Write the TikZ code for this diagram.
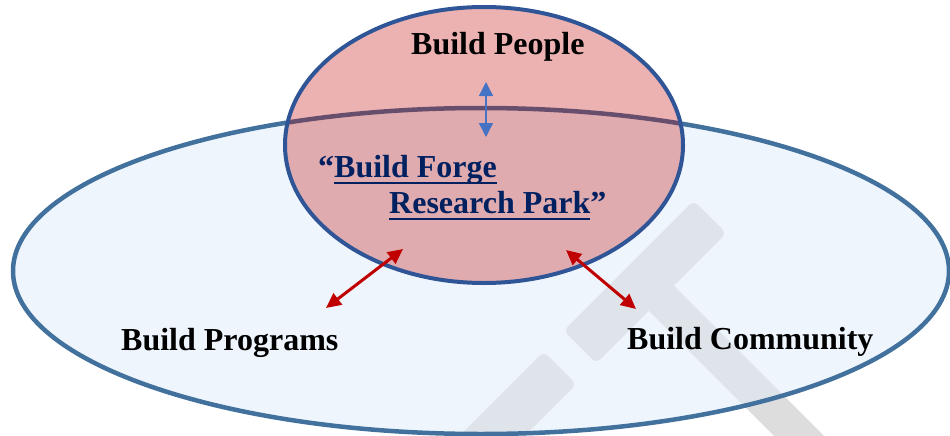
\documentclass[tikz,border=0pt]{standalone}
\usepackage{fontspec}
\setmainfont{Liberation Serif}
\usetikzlibrary{arrows.meta}
\definecolor{bigfill}{HTML}{EEF5FC}
\definecolor{bigline}{HTML}{41719C}
\definecolor{smallline}{HTML}{2F5597}
\definecolor{redfill}{HTML}{C00000}
\definecolor{redarrow}{HTML}{C00000}
\definecolor{bluearrow}{HTML}{4472C4}
\definecolor{navytext}{HTML}{002060}
\definecolor{wmout}{HTML}{DDDDDD}
\definecolor{wmin}{HTML}{DFE3EA}
\newcommand\wmhammer[1]{%
  \fill[#1,rounded corners=6pt] (726.3,233.3) -- (693.7,200.7) -- (563.7,330.7) -- (596.3,363.3) -- cycle;
  \fill[#1,rounded corners=6pt] (576.3,384.3) -- (543.7,351.7) -- (437.7,457.7) -- (470.3,490.3) -- cycle;
  \fill[#1,rounded corners=6pt] (657.5,269.5) -- (632.5,294.5) -- (809.5,471.5) -- (834.5,446.5) -- cycle;
}
\newcommand\ulbf[1]{\setbox0\hbox{#1}\rlap{\rule[-7pt]{\wd0}{2.3pt}}\box0}
\tikzset{
  lbl/.style={font=\fontsize{32}{38}\selectfont\bfseries, inner sep=0pt, anchor=base west},
  redarr/.style={draw=redarrow, line width=3pt, {Triangle[length=15pt,width=14pt]}-{Triangle[length=15pt,width=14pt]}},
  bluearr/.style={draw=bluearrow, line width=1.5pt, {Triangle[length=14pt,width=14pt]}-{Triangle[length=14pt,width=14pt]}}
}
\begin{document}
\begin{tikzpicture}[x=1pt,y=-1pt]
\useasboundingbox (0,0) rectangle (950,436);
\begin{scope}
  \clip (0,0) rectangle (950,436);
  \wmhammer{wmout}
  \fill[bigfill] (481,271) ellipse [x radius=468pt, y radius=163pt];
  \begin{scope}
    \clip (481,271) ellipse [x radius=468pt, y radius=163pt];
    \wmhammer{wmin}
  \end{scope}
  \draw[bigline, line width=4.5pt] (481,271) ellipse [x radius=468pt, y radius=163pt];
  \path[fill=redfill, fill opacity=0.3, draw=smallline, line width=4pt] (484,145) ellipse [x radius=199pt, y radius=138pt];
\end{scope}

\node[lbl] (people) at (411,55) {Build People};
\node[lbl] (programs) at (121,350) {Build Programs};
\node[lbl] (community) at (627,349) {Build Community};
\node[lbl, text=navytext] (forge1) at (318,177) {“\ulbf{Build Forge}};
\node[lbl, text=navytext] (forge2) at (389,213) {\ulbf{Research Park}”};

\coordinate (bTop) at (486,82);
\coordinate (bBot) at (486,137);
\coordinate (lTop) at (403,249);
\coordinate (lBot) at (326,308);
\coordinate (rTop) at (566,250);
\coordinate (rBot) at (636,309);
\draw[bluearr] (bTop) -- (bBot);
\draw[redarr] (lTop) -- (lBot);
\draw[redarr] (rTop) -- (rBot);
\end{tikzpicture}
\end{document}
